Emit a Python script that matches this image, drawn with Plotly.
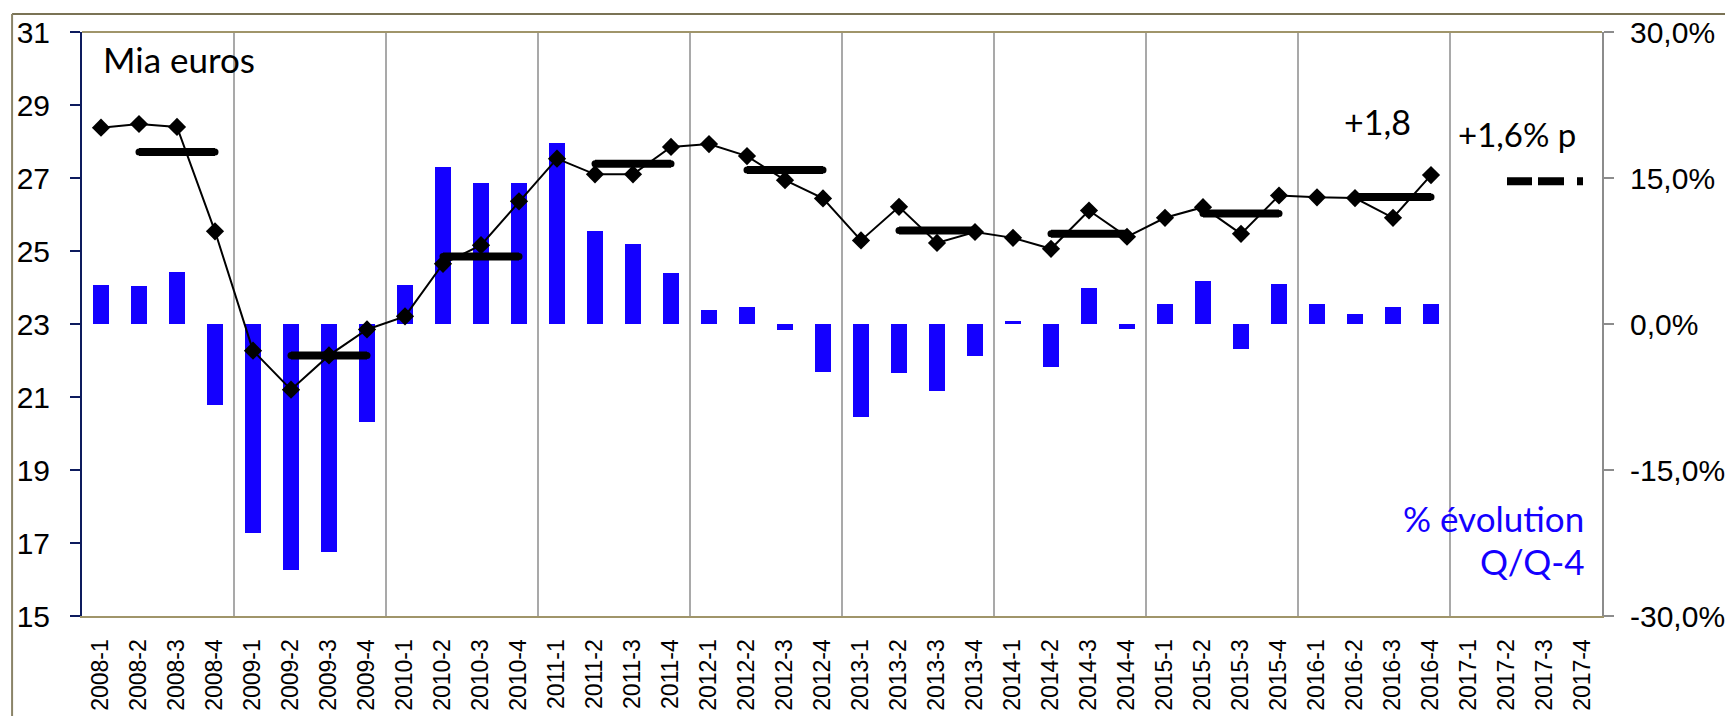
import plotly.graph_objects as go

quarters = [
    "2008-1", "2008-2", "2008-3", "2008-4", "2009-1", "2009-2", "2009-3", "2009-4",
    "2010-1", "2010-2", "2010-3", "2010-4", "2011-1", "2011-2", "2011-3", "2011-4",
    "2012-1", "2012-2", "2012-3", "2012-4", "2013-1", "2013-2", "2013-3", "2013-4",
    "2014-1", "2014-2", "2014-3", "2014-4", "2015-1", "2015-2", "2015-3", "2015-4",
    "2016-1", "2016-2", "2016-3", "2016-4", "2017-1", "2017-2", "2017-3", "2017-4",
]

# Quarterly level, billion euros (Mia euros)
level = [
    28.38, 28.48, 28.40, 25.54, 22.27, 21.20, 22.14, 22.85,
    23.21, 24.65, 25.16, 26.36, 27.53, 27.10, 27.10, 27.85,
    27.93, 27.60, 26.94, 26.44, 25.29, 26.21, 25.22, 25.52,
    25.36, 25.06, 26.11, 25.39, 25.91, 26.20, 25.47, 26.52,
    26.47, 26.45, 25.91, 27.08, None, None, None, None,
]

# % evolution Q/Q-4
pct = [
    0.040, 0.039, 0.053, -0.083, -0.215, -0.253, -0.234, -0.101,
    0.040, 0.161, 0.145, 0.145, 0.186, 0.096, 0.082, 0.052,
    0.014, 0.017, -0.006, -0.049, -0.096, -0.050, -0.069, -0.033,
    0.003, -0.044, 0.037, -0.005, 0.021, 0.044, -0.026, 0.041,
    0.021, 0.010, 0.017, 0.021, None, None, None, None,
]

# Annual averages (thick bars), one per year 2008..2016
years = [2008, 2009, 2010, 2011, 2012, 2013, 2014, 2015, 2016]
annual_avg = [27.71, 22.14, 24.85, 27.39, 27.22, 25.56, 25.47, 26.03, 26.48]
forecast_year = 2017
forecast_avg = 26.91

right_ticks = [-0.30, -0.15, 0.0, 0.15, 0.30]
right_ticktext = ["-30,0%", "-15,0%", "0,0%", "15,0%", "30,0%"]

BLUE = "#1400ff"
idx = list(range(len(quarters)))

fig = go.Figure()

# bars on primary y (percent axis, right side)
fig.add_trace(go.Bar(
    x=idx, y=pct, marker=dict(color=BLUE, line=dict(width=0)),
    width=0.4, yaxis="y", hoverinfo="skip",
))

# level line on y2 (euros, left side)
fig.add_trace(go.Scatter(
    x=idx, y=level, mode="lines+markers", yaxis="y2",
    line=dict(color="black", width=2),
    marker=dict(symbol="diamond", size=14, color="black"),
))

first_year = years[0]
for yr, v in zip(years, annual_avg):
    k = (yr - first_year) * 4
    fig.add_trace(go.Scatter(
        x=[k + 1, k + 3], y=[v, v], mode="lines+markers", yaxis="y2",
        line=dict(color="black", width=8),
        marker=dict(symbol="circle", size=7, color="black"),
    ))

kf = (forecast_year - first_year) * 4
fig.add_trace(go.Scatter(
    x=[kf + 1, kf + 3], y=[forecast_avg, forecast_avg], mode="lines", yaxis="y2",
    line=dict(color="black", width=8, dash="25px,6px,26px,13px"),
))

# year separators
for i, lab in enumerate(quarters):
    if lab.endswith("-1") and i > 0:
        fig.add_shape(type="line", xref="x", yref="paper", x0=i - 0.5, x1=i - 0.5,
                      y0=0, y1=1, line=dict(color="#8c8c8c", width=1.5), layer="below")

# plot-area top border
fig.add_shape(type="line", xref="paper", yref="paper", x0=0, x1=1, y0=1, y1=1,
              line=dict(color="#a0956a", width=2))
# outer chart border (top & left)
fig.add_shape(type="line", xref="paper", yref="paper", x0=-0.046, x1=1.1, y0=1.031, y1=1.031,
              line=dict(color="#7a7355", width=2))
fig.add_shape(type="line", xref="paper", yref="paper", x0=-0.046, x1=-0.046, y0=1.031, y1=-0.3,
              line=dict(color="#8a8468", width=2))

TICKFONT = dict(family="Liberation Sans, Arial, sans-serif", size=30, color="black")
ANNFONT = "Lato, Carlito, sans-serif"

fig.update_layout(
    width=1725, height=716,
    margin=dict(l=82, r=123, t=32, b=100, autoexpand=False),
    paper_bgcolor="white", plot_bgcolor="white",
    showlegend=False,
    bargap=0,
    xaxis=dict(
        range=[-0.5, len(quarters) - 0.5],
        tickmode="array", tickvals=idx, ticktext=quarters,
        tickangle=-90,
        tickfont=dict(family="Liberation Sans, Arial, sans-serif", size=23, color="black"),
        ticks="outside", ticklen=12, tickcolor="rgba(0,0,0,0)",
        showline=True, linecolor="#a0956a", linewidth=2,
        showgrid=False, zeroline=False, automargin=False,
    ),
    yaxis=dict(
        side="right", range=[-0.30, 0.30],
        tickmode="array", tickvals=right_ticks, ticktext=right_ticktext,
        tickfont=TICKFONT,
        ticks="outside", ticklen=10, tickcolor="#8c8c8c", tickwidth=2,
        showline=True, linecolor="#8c8c8c", linewidth=2,
        showgrid=False, zeroline=False, automargin=False,
        ticklabelstandoff=10,
    ),
    yaxis2=dict(
        side="left", overlaying="y", range=[15, 31], dtick=2, tick0=15,
        tickfont=TICKFONT,
        ticks="outside", ticklen=10, tickcolor="#0d1b5e", tickwidth=2,
        showline=True, linecolor="#0d1b5e", linewidth=2,
        showgrid=False, zeroline=False, automargin=False,
        ticklabelstandoff=14,
    ),
    annotations=[
        dict(text="Mia euros", xref="paper", yref="paper", x=0.0124, y=0.953,
             xanchor="left", yanchor="middle", showarrow=False,
             font=dict(family=ANNFONT, size=35, color="black")),
        dict(text="+1,8", xref="paper", yref="paper", x=0.829, y=0.846,
             xanchor="left", yanchor="middle", showarrow=False,
             font=dict(family=ANNFONT, size=34, color="black")),
        dict(text="+1,6% p", xref="paper", yref="paper", x=0.904, y=0.826,
             xanchor="left", yanchor="middle", showarrow=False,
             font=dict(family=ANNFONT, size=33, color="black")),
        dict(text="% évolution", xref="paper", yref="paper", x=0.9895, y=0.168,
             xanchor="right", yanchor="middle", showarrow=False,
             font=dict(family=ANNFONT, size=35, color=BLUE)),
        dict(text="Q/Q-4", xref="paper", yref="paper", x=0.9895, y=0.094,
             xanchor="right", yanchor="middle", showarrow=False,
             font=dict(family=ANNFONT, size=35, color=BLUE)),
    ],
)

fig.write_html(
    "out.html",
    config={"displayModeBar": False},
    post_script="document.body.style.margin='0';document.body.style.overflow='hidden';",
)
